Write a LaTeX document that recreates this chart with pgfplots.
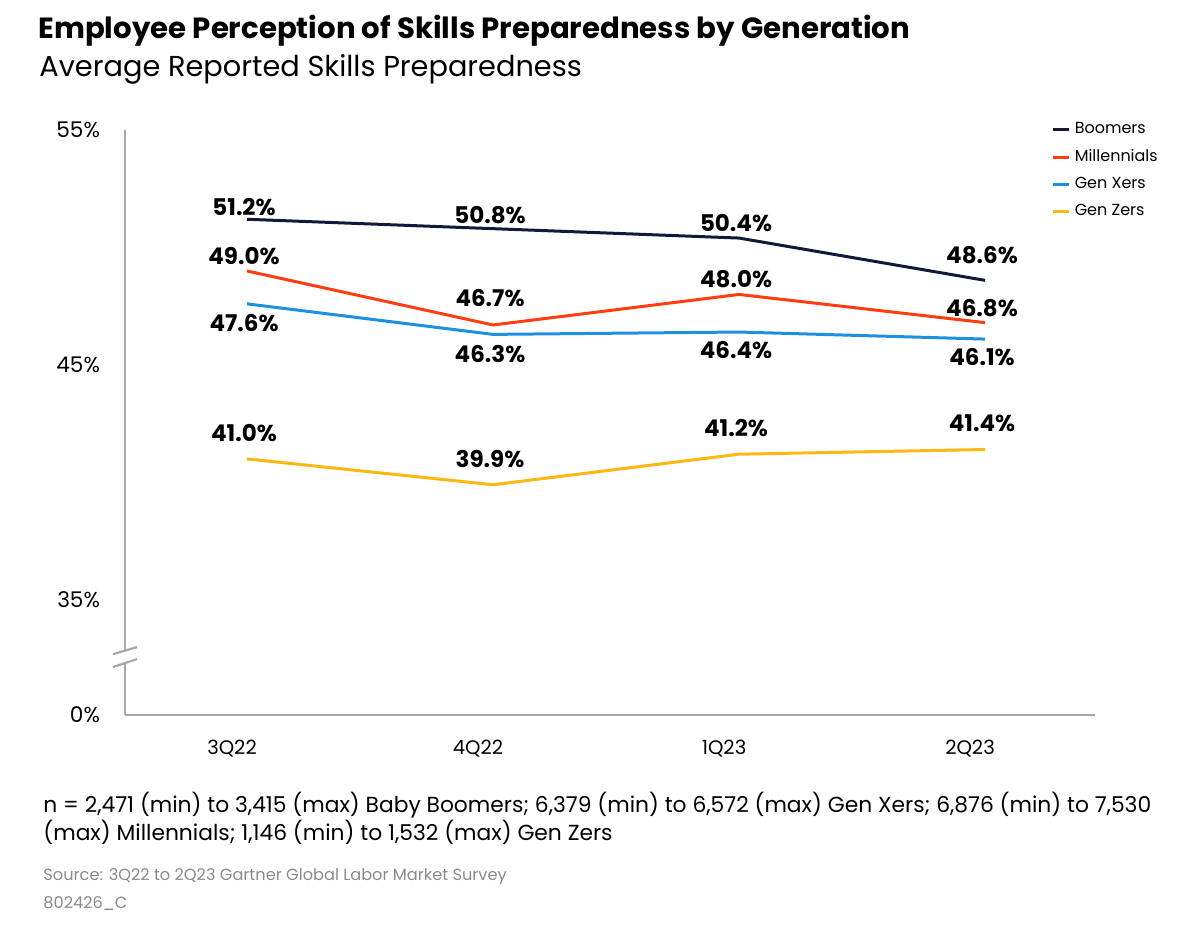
\documentclass[border=0pt]{standalone}
\usepackage{fontspec}
\setmainfont{Poppins}
\usepackage{pgfplots}
\pgfplotsset{compat=1.18}
\usepackage{pgfplotstable}

\definecolor{cBoom}{HTML}{121A3B}
\definecolor{cMill}{HTML}{FF3D12}
\definecolor{cGenX}{HTML}{1E90E0}
\definecolor{cGenZ}{HTML}{FFB714}
\definecolor{cAxis}{HTML}{A8A8A8}
\definecolor{cSrc}{HTML}{8A8A8A}

\pgfplotstableread{
x y dy
0 51.2 6.25
1 50.8 7
2 50.4 7.5
3 48.6 12.75
}\boomers
\pgfplotstableread{
x y dy
0 49.0 7.25
1 46.7 13.25
2 48.0 7.5
3 46.8 7.5
}\millennials
\pgfplotstableread{
x y dy
0 47.6 -9.85
1 46.3 -10
2 46.4 -9.25
3 46.1 -8.75
}\genx
\pgfplotstableread{
x y dy
0 41.0 13
1 39.9 13
2 41.2 13
3 41.4 13
}\genz

\begin{document}
\begin{tikzpicture}
\path[use as bounding box] (0,0) rectangle (600pt,465.5pt);
\begin{axis}[
  at={(62.5pt,108pt)}, anchor=south west,
  scale only axis, width=485pt, height=292.5pt,
  xmin=-0.496, xmax=3.447, ymin=30.1, ymax=55,
  clip=false,
  axis x line=bottom, axis y line=left,
  axis line style={draw=cAxis, line width=1.2pt, -},
  xtick={0,1,2,3}, xticklabels={3Q22,4Q22,1Q23,2Q23},
  ytick={30.1,35,45,55}, yticklabels={0\%,35\%,45\%,55\%},
  major tick length=0pt,
  /pgf/number format/assume math mode=true,
  xticklabel style={font=\fontsize{9.8}{11}\selectfont, anchor=base, yshift=-20pt, xshift=-7.5pt},
  yticklabel style={font=\fontsize{10.8}{12}\selectfont, anchor=east, xshift=-9pt},
  legend style={at={(0.955,1.02)}, anchor=north west, draw=none, fill=none,
    font=\fontsize{8}{9}\selectfont, row sep=2.4pt, inner sep=0pt},
  legend cell align=left,
  legend image code/.code={\draw[#1, line width=1.5pt] (0pt,0pt) -- (8pt,0pt);},
  point meta=y,
  visualization depends on={\thisrow{dy} \as \dy},
  nodes near coords={\pgfmathprintnumber[fixed,fixed zerofill,precision=1]{\pgfplotspointmeta}\%},
  every node near coord/.append style={anchor=center, yshift=\dy pt, xshift=-1.5pt,
    font=\bfseries\fontsize{11.5}{13}\selectfont, text=black},
]
\addplot[cBoom, line width=1.5pt, mark=none] table[x=x,y=y] {\boomers};
\addlegendentry{Boomers}
\addplot[cMill, line width=1.5pt, mark=none] table[x=x,y=y] {\millennials};
\addlegendentry{Millennials}
\addplot[cGenX, line width=1.5pt, mark=none] table[x=x,y=y] {\genx};
\addlegendentry{Gen Xers}
\addplot[cGenZ, line width=1.5pt, mark=none] table[x=x,y=y] {\genz};
\addlegendentry{Gen Zers}
% axis break
\fill[white] (axis cs:-0.52,32.35) rectangle (axis cs:-0.47,32.82);
\draw[cAxis, line width=1.1pt] (axis cs:-0.545,32.69) -- (axis cs:-0.447,32.99);
\draw[cAxis, line width=1.1pt] (axis cs:-0.545,32.14) -- (axis cs:-0.447,32.48);
\end{axis}
\node[anchor=base west, inner sep=0pt, font=\bfseries\fontsize{14.6}{16}\selectfont] at (19pt,446pt) {Employee Perception of Skills Preparedness by Generation};
\node[anchor=base west, inner sep=0pt, font=\fontsize{14.4}{16}\selectfont] at (19.5pt,427pt) {Average Reported Skills Preparedness};
\node[anchor=base west, inner sep=0pt, font=\fontsize{10.9}{12}\selectfont] at (21.5pt,59pt) {n = 2,471 (min) to 3,415 (max) Baby Boomers; 6,379 (min) to 6,572 (max) Gen Xers; 6,876 (min) to 7,530};
\node[anchor=base west, inner sep=0pt, font=\fontsize{10.9}{12}\selectfont] at (21.5pt,45pt) {(max) Millennials; 1,146 (min) to 1,532 (max) Gen Zers};
\node[anchor=base west, inner sep=0pt, font=\fontsize{8.1}{9}\selectfont, text=cSrc] at (21.5pt,25pt) {Source: 3Q22 to 2Q23 Gartner Global Labor Market Survey};
\node[anchor=base west, inner sep=0pt, font=\fontsize{8.1}{9}\selectfont, text=cSrc] at (21.5pt,11pt) {802426\_C};
\end{tikzpicture}
\end{document}
